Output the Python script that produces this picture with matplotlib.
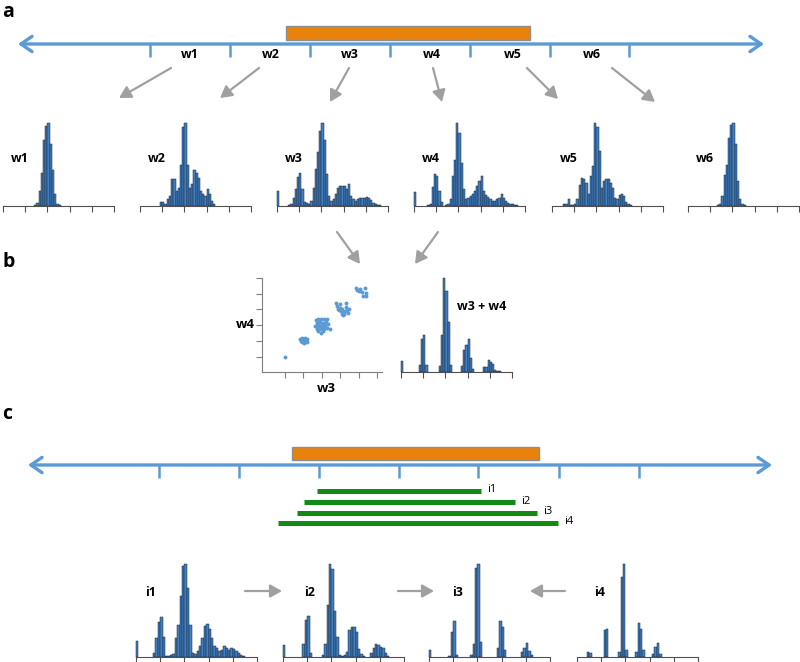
import numpy as np
import matplotlib
matplotlib.use("Agg")
import matplotlib.pyplot as plt
from matplotlib.patches import Rectangle

plt.rcParams['font.family'] = ['Open Sans', 'DejaVu Sans']

# histogram heights, bins of 0.1 from 0 to 5 (peak scaled to 100)
w1 = [0,0,0,0,0,0,0,0,0,0, 0,0,0,0,1,4,18,40,80,96, 100,75,43,14,3,1,0,0,0,0,
      0,0,0,0,0,0,0,0,0,0, 0,0,0,0,0,0,0,0,0,0]
w2 = [0,0,0,0,0,0,0,0,0,5, 5,3,8,12,33,32,18,22,50,95, 100,50,22,26,43,40,34,18,14,12,
      20,14,6,2,0,0,0,0,0,0, 0,0,0,0,0,0,0,0,0,0]
w3 = [18,0,0,0,0,1,3,10,20,35, 40,20,5,4,2,6,22,45,65,90, 100,80,38,12,6,8,14,22,24,24,
      24,20,26,12,8,6,8,10,10,10, 11,10,7,4,2,1,1,0,0,0]
w4 = [17,0,0,0,0,0,1,2,23,38, 36,18,5,0,1,2,8,36,55,100, 88,52,20,8,10,12,14,18,24,30,
      36,18,13,11,9,6,6,8,10,15, 10,6,4,3,2,1,1,0,0,0]
w5 = [0,0,0,0,0,2,3,8,1,1, 3,8,25,34,32,28,14,36,48,100, 95,66,22,30,33,33,28,22,10,8,
      13,14,12,5,3,1,0,0,0,0, 0,0,0,0,0,0,0,0,0,0]
w6 = [0,0,0,0,0,0,0,0,0,0, 0,0,0,1,2,12,37,50,82,97, 100,75,30,8,3,1,0,0,0,0,
      0,0,0,0,0,0,0,0,0,0, 0,0,0,0,0,0,0,0,0,0]
w34 = [12,0,0,0,0,0,0,0,7,35, 39,7,0,0,0,0,0,6,39,100, 86,53,7,0,0,0,0,6,23,29,
       35,15,3,0,0,0,0,5,5,13, 11,8,2,1,1,0,0,0,0,0]
i1 = [17,0,0,0,0,0,0,4,20,38, 43,22,1,1,2,3,20,34,66,98, 100,74,34,4,3,6,12,20,33,35,
      30,20,12,10,6,8,12,10,8,10, 9,6,4,2,1,0,0,0,0,0]
i2 = [13,0,0,0,0,0,0,0,14,40, 44,4,0,0,0,0,2,14,56,100, 95,50,21,2,1,2,5,29,32,32,
      27,9,3,1,0,0,4,10,14,13, 11,10,4,1,0,0,0,0,0,0]
i3 = [8,0,0,0,0,0,0,0,1,27, 39,2,0,0,0,0,0,2,14,96, 100,16,0,0,0,0,0,0,10,39,
      32,7,0,0,0,0,0,0,5,10, 15,6,2,0,0,0,0,0,0,0]
i4 = [0,0,0,0,5,4,0,0,0,0, 0,29,30,0,0,0,0,5,86,100, 7,0,0,0,5,37,30,8,0,0,
      0,3,11,15,3,0,0,0,0,0, 0,0,0,0,0,0,0,0,0,0]

# scatter of w3 vs w4 estimates
sc_w3 = [0.0,
         0.82,0.95,1.09,1.21,0.87,1.0,1.12,0.91,1.05,1.18,0.96,1.03,
         1.67,1.81,1.96,2.14,2.27,1.72,1.9,2.08,2.21,1.63,1.78,1.9,2.05,2.17,
         2.32,1.72,1.87,2.0,2.14,2.27,2.45,1.81,1.96,2.08,1.9,2.0,2.14,1.78,
         2.75,2.99,3.3,3.3,2.86,2.99,3.12,3.04,3.17,3.26,3.35,3.48,3.08,3.23,
         2.93,3.17,2.81,3.41,
         3.84,4.08,4.35,4.02,4.17,4.26,4.38,3.9,4.4]
sc_w4 = [0.0,
         1.15,1.22,1.2,1.13,1.03,1.05,1.03,0.92,0.88,0.96,1.13,0.96,
         2.33,2.37,2.37,2.42,2.37,2.16,2.2,2.16,2.2,1.94,1.98,1.98,1.94,1.94,
         2.05,1.77,1.73,1.77,1.77,1.84,1.77,1.62,1.52,1.62,1.9,2.09,2.05,2.12,
         3.4,3.38,3.4,3.18,3.01,3.12,3.05,2.9,2.84,2.9,2.97,3.01,2.69,2.73,
         2.97,2.63,3.22,2.79,
         4.36,4.29,4.36,4.19,4.08,3.83,3.87,4.25,4.05]

win_labels = ['w1', 'w2', 'w3', 'w4', 'w5', 'w6']
int_labels = ['i1', 'i2', 'i3', 'i4']

W, H = 800, 662
TRACK = '#5B9BD5'
ORANGE = '#E8820C'
BAR = '#3F7FC2'
ARROW = '#A0A0A0'
GREEN = '#138A13'
bins = np.arange(50) * 0.1

fig = plt.figure(figsize=(8, 6.62), dpi=100)
canvas = fig.add_axes([0, 0, 1, 1])
canvas.set_xlim(0, W)
canvas.set_ylim(H, 0)
canvas.axis('off')


def px_axes(left, top, width, height):
    ax = fig.add_axes([left / W, 1 - (top + height) / H, width / W, height / H])
    ax.patch.set_visible(False)
    return ax


def hist_panel(ax, heights):
    h = np.array(heights, dtype=float)
    keep = h > 0
    ax.bar(bins[keep], h[keep], width=0.1, align='edge', color=BAR,
           edgecolor='#1c2430', linewidth=0.35, clip_on=False)
    ax.set_xlim(0, 5)
    ax.set_ylim(0, 100)
    for s in ['top', 'right', 'left']:
        ax.spines[s].set_visible(False)
    ax.spines['bottom'].set_color('#505050')
    ax.set_xticks(range(6))
    ax.set_yticks([])
    ax.tick_params(axis='x', length=4, width=0.8, color='#505050', labelbottom=False)


def genome_track(y, x0, x1, ticks, box):
    canvas.annotate('', xy=(x1, y), xytext=(x0, y),
                    arrowprops=dict(arrowstyle='<->,head_length=0.8,head_width=0.55',
                                    color=TRACK, lw=2.4, shrinkA=0, shrinkB=0,
                                    mutation_scale=10))
    for t in ticks:
        canvas.plot([t, t], [y, y + 13], color=TRACK, lw=1.8, solid_capstyle='butt')
    canvas.add_patch(Rectangle((box[0], box[1]), box[2] - box[0], box[3] - box[1],
                               fc=ORANGE, ec='#8f8f8f', lw=1, zorder=3))


def gray_arrow(start, end):
    canvas.annotate('', xy=end, xytext=start,
                    arrowprops=dict(arrowstyle='-|>,head_length=0.5,head_width=0.28',
                                    color=ARROW, lw=1.6, shrinkA=0, shrinkB=0,
                                    mutation_scale=14))


bold = dict(fontweight='bold', fontsize=9, ha='center', va='center')

# ---- panel a
canvas.text(2, 12, 'a', fontsize=14, fontweight='bold', va='center')
genome_track(44, 18, 764, [150, 230, 310, 390, 470, 550, 629], (286, 26, 530, 40))
for lab, x in zip(win_labels, [190, 271, 350, 432, 513, 592]):
    canvas.text(x, 55, lab, **bold)
for s, e in [((171, 68), (119, 98)), ((259, 68), (220, 98)), ((349, 68), (330, 102)),
             ((433, 68), (442, 102)), ((527, 68), (558, 99)), ((612, 68), (655, 102))]:
    gray_arrow(s, e)

for data, lab, left in zip([w1, w2, w3, w4, w5, w6], win_labels,
                           [3, 140, 277, 414, 552, 688]):
    ax = px_axes(left, 123, 111, 83)
    hist_panel(ax, data)
    canvas.text(left + 17, 158, lab, **bold)

# ---- panel b
canvas.text(2, 262, 'b', fontsize=14, fontweight='bold', va='center')
gray_arrow((337, 232), (360, 264))
gray_arrow((438, 232), (415, 264))

ax = px_axes(262, 278, 120, 94)
ax.scatter(sc_w3, sc_w4, s=8, color='#5B9BD5', linewidths=0)
ax.set_xlim(-1.25, 5.27)
ax.set_ylim(-0.97, 5.0)
for s in ['top', 'right']:
    ax.spines[s].set_visible(False)
for s in ['left', 'bottom']:
    ax.spines[s].set_color('#7f7f7f')
ax.set_xticks(range(6))
ax.set_yticks(range(6))
ax.tick_params(length=4, width=0.8, color='#7f7f7f', labelbottom=False, labelleft=False)
canvas.text(245, 325, 'w4', fontweight='bold', fontsize=9.5, ha='center', va='center')
canvas.text(326, 388, 'w3', fontweight='bold', fontsize=9.5, ha='center', va='center')

ax = px_axes(401, 278, 111, 94)
hist_panel(ax, w34)
canvas.text(482, 306, 'w3 + w4', **bold)

# ---- panel c
canvas.text(2, 414, 'c', fontsize=14, fontweight='bold', va='center')
genome_track(465, 28, 772, [159, 239, 319, 399, 478, 559, 639], (292, 447, 539, 460))
for lab, (x0, x1, y) in zip(int_labels, [(317, 481, 491), (304, 515, 502),
                                         (297, 537, 513), (278, 558, 523)]):
    canvas.plot([x0, x1], [y, y], color=GREEN, lw=3.6, solid_capstyle='butt')
    canvas.text(x1 + 6, y - 1, lab, fontsize=8, ha='left', va='center')

for s, e in [((245, 591), (282, 591)), ((398, 591), (434, 591)), ((565, 591), (530, 591))]:
    gray_arrow(s, e)

for data, lab, left, lx in zip([i1, i2, i3, i4], int_labels,
                               [136, 283, 429, 577], [151, 310, 458, 600]):
    ax = px_axes(left, 564, 121, 93)
    hist_panel(ax, data)
    canvas.text(lx, 592, lab, **bold)

fig.savefig('out.png', dpi=100)
